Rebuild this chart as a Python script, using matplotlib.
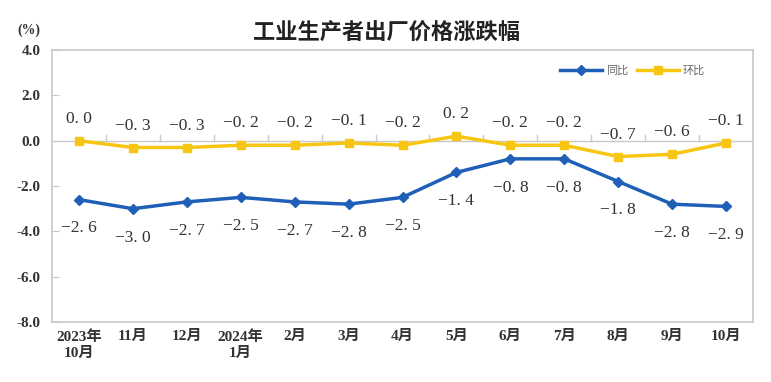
import matplotlib
matplotlib.use("Agg")
import matplotlib.pyplot as plt

plt.rcParams['font.family'] = ['Liberation Serif', 'Noto Sans CJK SC']
plt.rcParams['axes.unicode_minus'] = True

categories = ["2023年\n10月", "11月", "12月", "2024年\n1月", "2月", "3月", "4月",
              "5月", "6月", "7月", "8月", "9月", "10月"]
yoy = [-2.6, -3.0, -2.7, -2.5, -2.7, -2.8, -2.5, -1.4, -0.8, -0.8, -1.8, -2.8, -2.9]
mom = [0.0, -0.3, -0.3, -0.2, -0.2, -0.1, -0.2, 0.2, -0.2, -0.2, -0.7, -0.6, -0.1]
yticks = [4.0, 2.0, 0.0, -2.0, -4.0, -6.0, -8.0]

blue = "#1F5FB8"
yellow = "#F7C613"
gray = "#C8C8C8"

fig = plt.figure(figsize=(7.71, 3.82), dpi=100)
ax = fig.add_axes([0.0674, 0.157, 0.9093, 0.712])
x = list(range(len(categories)))

ax.plot(x, yoy, color=blue, lw=2.5, marker="D", ms=5, label="同比", zorder=3)
ax.plot(x, mom, color=yellow, lw=2.5, marker="s", ms=6, label="环比", zorder=3)

def fmt(v):
    s = f"{abs(v):.1f}".replace(".", ". ")
    return ("−" if v < 0 else "") + s

for xi, v in zip(x, mom):
    ax.annotate(fmt(v), (xi, v), xytext=(0, 10), textcoords="offset points",
                ha="center", va="bottom", fontsize=12.5, color="#333333")
for xi, v in zip(x, yoy):
    ax.annotate(fmt(v), (xi, v), xytext=(0, -15), textcoords="offset points",
                ha="center", va="top", fontsize=12.5, color="#333333")

ax.set_xlim(-0.5, len(categories) - 0.5)
ax.set_ylim(-8, 4)
ax.set_yticks(yticks)
ax.set_yticklabels([f"{t:.1f}" for t in yticks], fontsize=11, fontweight="bold", color="#333333")
ax.tick_params(axis="y", direction="in", length=5, color=gray, pad=8)

ax.set_xticks(x)
ax.set_xticklabels(categories, fontsize=11, fontweight="bold", color="#333333", linespacing=1.3)
ax.tick_params(axis="x", length=0, pad=6)

# zero line with upward ticks at category boundaries
ax.axhline(0, color=gray, lw=1, zorder=1)
for b in range(1, len(categories)):
    ax.plot([b - 0.5, b - 0.5], [0, 0.25], color=gray, lw=1, zorder=1)

for s in ax.spines.values():
    s.set_color(gray)
    s.set_linewidth(1.2)

leg = ax.legend(loc="upper right", bbox_to_anchor=(0.945, 0.98), ncol=2, frameon=False,
                handlelength=3.8, columnspacing=0.8, handletextpad=0.3,
                prop={"family": ["Noto Sans CJK SC"], "size": 8})
for t in leg.get_texts():
    t.set_color("#666666")

fig.text(0.501, 0.913, "工业生产者出厂价格涨跌幅", ha="center", va="center", fontsize=16,
         fontweight="bold", family=["Noto Sans CJK SC"], color="#222222")
fig.text(0.037, 0.92, "(%)", ha="center", va="center", fontsize=10, fontweight="bold", color="#333333")

fig.savefig("out.png", dpi=100, facecolor="white")
